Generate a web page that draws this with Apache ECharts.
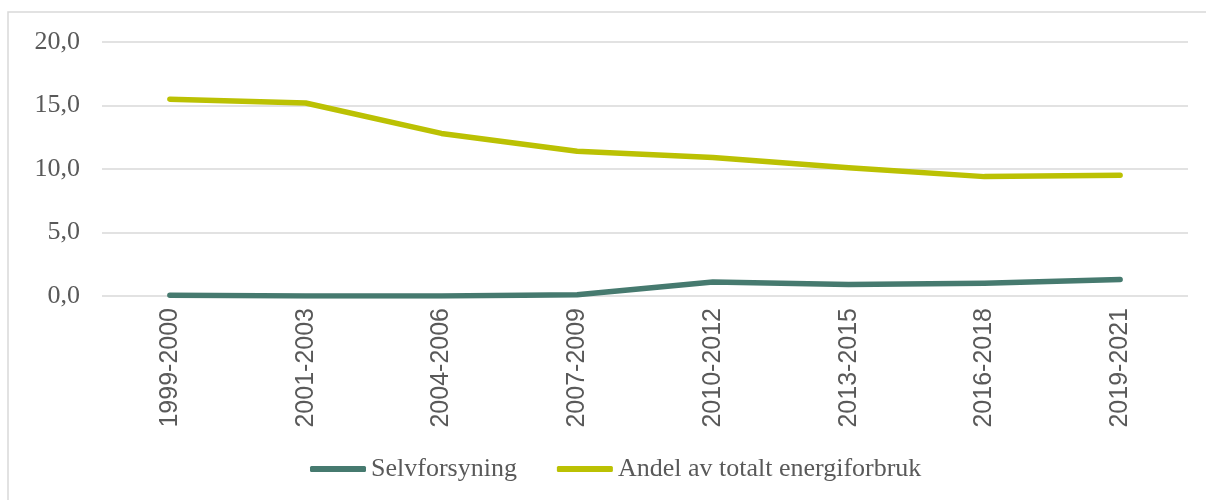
<!DOCTYPE html>
<html>
<head>
<meta charset="utf-8">
<script src="https://cdn.jsdelivr.net/npm/echarts@6/dist/echarts.min.js"></script>
<style>
  html, body { margin: 0; padding: 0; background: #fff; }
  #chart { width: 1206px; height: 500px; }
</style>
</head>
<body>
<div id="chart"></div>
<script>
const periods = ['1999-2000', '2001-2003', '2004-2006', '2007-2009', '2010-2012', '2013-2015', '2016-2018', '2019-2021'];
const selvforsyning = [0.05, 0.0, 0.0, 0.1, 1.1, 0.9, 1.0, 1.3];
const andelTotalt = [15.5, 15.2, 12.8, 11.4, 10.9, 10.1, 9.4, 9.5];
const seriesNames = ['Selvforsyning', 'Andel av totalt energiforbruk'];
const colors = ['#467a6f', '#bbc103'];

const textColor = '#595959';
const serif = '"Liberation Serif", "DejaVu Serif", serif';
const sans = '"Liberation Sans", Arial, sans-serif';

const chart = echarts.init(document.getElementById('chart'), null, { renderer: 'canvas' });

const makeLine = (name, data, color) => ({
  name,
  type: 'line',
  data,
  symbol: 'none',
  smooth: false,
  lineStyle: { color, width: 5.5, cap: 'round', join: 'round' },
  itemStyle: { color },
  emphasis: { disabled: true }
});

chart.setOption({
  animation: false,
  color: colors,
  graphic: [{
    type: 'rect',
    shape: { x: 8, y: 12, width: 1400, height: 700 },
    style: { fill: 'none', stroke: '#d9d9d9', lineWidth: 1.5 },
    silent: true
  }],
  grid: { left: 102, right: 18, top: 42, bottom: 204 },
  legend: {
    left: 305,
    top: 451,
    itemWidth: 56,
    itemHeight: 6,
    itemGap: 40,
    icon: 'roundRect',
    textStyle: { fontFamily: serif, fontSize: 26, color: textColor },
    data: seriesNames
  },
  xAxis: {
    type: 'category',
    data: periods,
    boundaryGap: true,
    axisLine: { show: false },
    axisTick: { show: false },
    axisLabel: {
      rotate: 90,
      margin: 12,
      fontFamily: sans,
      fontSize: 25,
      color: textColor,
      interval: 0
    }
  },
  yAxis: {
    type: 'value',
    min: 0,
    max: 20,
    interval: 5,
    axisLine: { show: false },
    axisTick: { show: false },
    splitLine: { lineStyle: { color: '#d9d9d9', width: 1.5 } },
    axisLabel: {
      margin: 22,
      fontFamily: serif,
      fontSize: 26,
      color: textColor,
      formatter: (v) => v.toFixed(1).replace('.', ',')
    }
  },
  series: [
    makeLine(seriesNames[0], selvforsyning, colors[0]),
    makeLine(seriesNames[1], andelTotalt, colors[1])
  ]
});
</script>
</body>
</html>
